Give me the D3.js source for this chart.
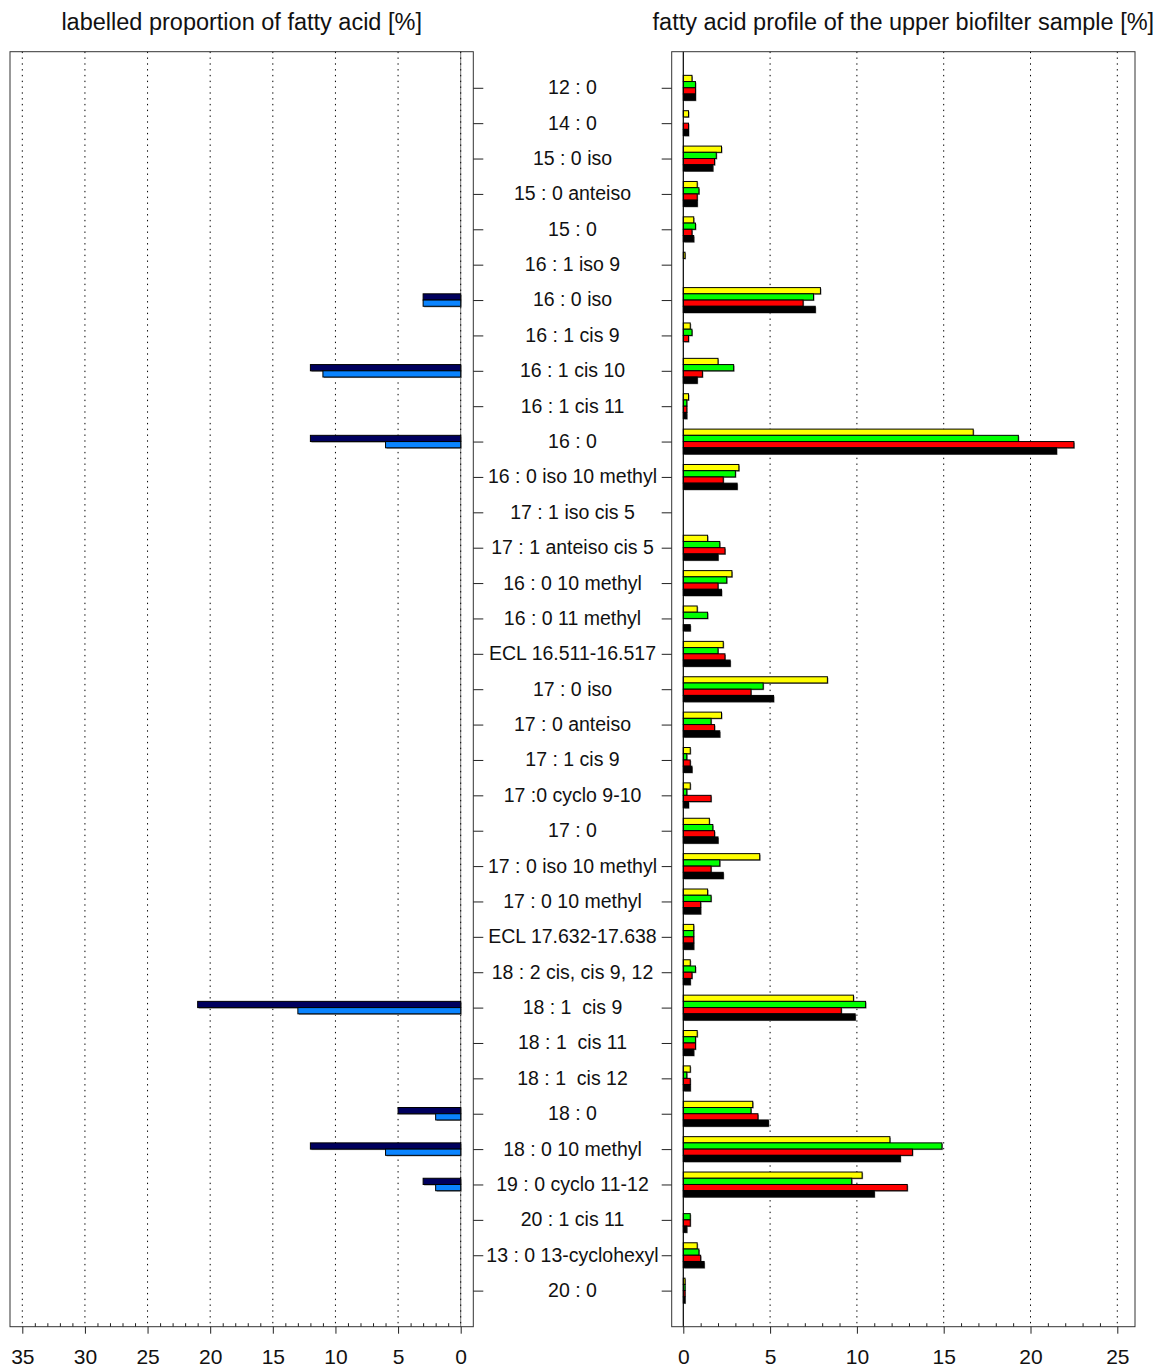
<!DOCTYPE html>
<html>
<head>
<meta charset="utf-8">
<script src="https://cdn.jsdelivr.net/npm/d3@7"></script>
<style>
  html, body { margin: 0; padding: 0; background: #fff; }
  svg { display: block; font-family: "Liberation Sans", Arial, Helvetica, sans-serif; }
  text { white-space: pre; }
</style>
</head>
<body>
<svg id="chart" width="1169" height="1371"></svg>
<script>
// Fatty acids, top to bottom
const categories = [
  "12 : 0", "14 : 0", "15 : 0 iso", "15 : 0 anteiso", "15 : 0", "16 : 1 iso 9",
  "16 : 0 iso", "16 : 1 cis 9", "16 : 1 cis 10", "16 : 1 cis 11", "16 : 0",
  "16 : 0 iso 10 methyl", "17 : 1 iso cis 5", "17 : 1 anteiso cis 5",
  "16 : 0 10 methyl", "16 : 0 11 methyl", "ECL 16.511-16.517", "17 : 0 iso",
  "17 : 0 anteiso", "17 : 1 cis 9", "17 :0 cyclo 9-10", "17 : 0",
  "17 : 0 iso 10 methyl", "17 : 0 10 methyl", "ECL 17.632-17.638",
  "18 : 2 cis, cis 9, 12", "18 : 1  cis 9", "18 : 1  cis 11", "18 : 1  cis 12",
  "18 : 0", "18 : 0 10 methyl", "19 : 0 cyclo 11-12", "20 : 1 cis 11",
  "13 : 0 13-cyclohexyl", "20 : 0"
];

// Labelled proportion [%] (left panel), two series
const labelledDark = [0,0,0,0,0,0,3,0,12,0,12,0,0,0,0,0,0,0,0,0,0,0,0,0,0,0,21,0,0,5,12,3,0,0,0];
const labelledLight = [0,0,0,0,0,0,3,0,11,0,6,0,0,0,0,0,0,0,0,0,0,0,0,0,0,0,13,0,0,2,6,2,0,0,0];

// Fatty acid profile of the upper biofilter sample [%] (right panel), four series
const profileYellow = [0.5,0.3,2.2,0.8,0.6,0.1,7.9,0.4,2.0,0.3,16.7,3.2,0,1.4,2.8,0.8,2.3,8.3,2.2,0.4,0.4,1.5,4.4,1.4,0.6,0.4,9.8,0.8,0.4,4.0,11.9,10.3,0,0.8,0.1];
const profileGreen  = [0.7,0,1.9,0.9,0.7,0,7.5,0.5,2.9,0.2,19.3,3.0,0,2.1,2.5,1.4,2.0,4.6,1.6,0.2,0.2,1.7,2.1,1.6,0.6,0.7,10.5,0.7,0.2,3.9,14.9,9.7,0.4,0.9,0.1];
const profileRed    = [0.7,0.3,1.8,0.8,0.5,0,6.9,0.3,1.1,0.2,22.5,2.3,0,2.4,2.0,0,2.4,3.9,1.8,0.4,1.6,1.8,1.6,1.0,0.6,0.5,9.1,0.7,0.4,4.3,13.2,12.9,0.4,1.0,0.1];
const profileBlack  = [0.7,0.3,1.7,0.8,0.6,0,7.6,0,0.8,0.2,21.5,3.1,0,2.0,2.2,0.4,2.7,5.2,2.1,0.5,0.3,2.0,2.3,1.0,0.6,0.4,9.9,0.6,0.4,4.9,12.5,11.0,0.2,1.2,0.1];

const leftTicks = [0, 5, 10, 15, 20, 25, 30, 35];
const rightTicks = [0, 5, 10, 15, 20, 25];

const svg = d3.select("#chart");

// Panel frames
const plotTop = 51.7, plotBottom = 1326.7;
const L = { x0: 10, x1: 473.3 };
const R = { x0: 671.7, x1: 1135 };

const y = d3.scalePoint().domain(categories).range([plotTop, plotBottom]).padding(1.02);
const barH = y.step() * 0.176;

// Left panel: values grow to the left
const xL = d3.scaleLinear().domain([0, 35]).range([460.7, 22.3]);
// Right panel
const xR = d3.scaleLinear().domain([0, 25]).range([683.3, 1117.3]);

const gridDash = "1.4 4.4";

function drawGrid(x, ticks, skipZero) {
  svg.append("g").selectAll("line")
    .data(ticks.filter(t => !(skipZero && t === 0)))
    .join("line")
    .attr("x1", d => x(d)).attr("x2", d => x(d))
    .attr("y1", plotTop).attr("y2", plotBottom)
    .attr("stroke", "#000").attr("stroke-width", 1)
    .attr("stroke-dasharray", gridDash);
}

function drawBars(x, seriesList, colors) {
  const n = seriesList.length;
  const g = svg.append("g");
  seriesList.forEach((vals, si) => {
    const rows = categories.map((c, i) => ({ c, v: vals[i] })).filter(d => d.v > 0);
    const yOff = (si - n / 2) * barH;
    const x0 = x(0);
    // drop shadow
    g.append("g").selectAll("rect").data(rows).join("rect")
      .attr("x", d => Math.min(x0, x(d.v)) + 1)
      .attr("y", d => y(d.c) + yOff + 1)
      .attr("width", d => Math.abs(x(d.v) - x0))
      .attr("height", barH)
      .attr("fill", "#8a8a8a");
    g.append("g").selectAll("rect").data(rows).join("rect")
      .attr("x", d => Math.min(x0, x(d.v)))
      .attr("y", d => y(d.c) + yOff)
      .attr("width", d => Math.abs(x(d.v) - x0))
      .attr("height", barH)
      .attr("fill", colors[si])
      .attr("stroke", "#000").attr("stroke-width", 1);
  });
}

// Grids
drawGrid(xL, leftTicks, true);
drawGrid(xR, rightTicks, true);

// Zero reference lines
svg.append("line")
  .attr("x1", xL(0)).attr("x2", xL(0)).attr("y1", plotTop).attr("y2", plotBottom)
  .attr("stroke", "#777").attr("stroke-width", 1);
svg.append("line")
  .attr("x1", xL(0)).attr("x2", xL(0)).attr("y1", plotTop).attr("y2", plotBottom)
  .attr("stroke", "#000").attr("stroke-width", 1).attr("stroke-dasharray", gridDash);

// Bars
drawBars(xL, [labelledDark, labelledLight], ["#00005e", "#0a84ff"]);
drawBars(xR, [profileYellow, profileGreen, profileRed, profileBlack], ["#ffff00", "#00ff00", "#ff0000", "#000000"]);

svg.append("line")
  .attr("x1", xR(0)).attr("x2", xR(0)).attr("y1", plotTop).attr("y2", plotBottom)
  .attr("stroke", "#000").attr("stroke-width", 1.2);

// Frames
[L, R].forEach(p => {
  svg.append("rect")
    .attr("x", p.x0).attr("y", plotTop)
    .attr("width", p.x1 - p.x0).attr("height", plotBottom - plotTop)
    .attr("fill", "none").attr("stroke", "#333").attr("stroke-width", 1);
});

// Bottom axes: major ticks outside with labels, minor ticks inside
function drawAxis(x, majors, maxV) {
  const ax = svg.append("g").attr("transform", `translate(0,${plotBottom})`)
    .call(d3.axisBottom(x).tickValues(majors).tickSize(7).tickPadding(15.5).tickFormat(d3.format("d")));
  ax.select(".domain").remove();
  ax.selectAll(".tick line").attr("stroke", "#222");
  ax.selectAll(".tick text").attr("font-size", 21).attr("fill", "#111")
    .attr("font-family", "'Liberation Sans', Arial, sans-serif");
  const minors = d3.range(0, maxV + 1).filter(v => v % 5 !== 0);
  const mx = svg.append("g").attr("transform", `translate(0,${plotBottom})`)
    .call(d3.axisBottom(x).tickValues(minors).tickSize(-3.5).tickFormat(""));
  mx.select(".domain").remove();
  mx.selectAll(".tick line").attr("stroke", "#222");
}
drawAxis(xL, leftTicks, 35);
drawAxis(xR, rightTicks, 25);

// Category ticks on the inner sides of both panels
const catL = svg.append("g").attr("transform", `translate(${L.x1},0)`)
  .call(d3.axisRight(y).tickSize(10).tickFormat(""));
catL.select(".domain").remove();
catL.selectAll(".tick line").attr("stroke", "#222");
const catR = svg.append("g").attr("transform", `translate(${R.x0},0)`)
  .call(d3.axisLeft(y).tickSize(10).tickFormat(""));
catR.select(".domain").remove();
catR.selectAll(".tick line").attr("stroke", "#222");

// Category labels between the panels
svg.append("g").selectAll("text").data(categories).join("text")
  .attr("x", (L.x1 + R.x0) / 2)
  .attr("y", d => y(d))
  .attr("dy", "0.33em")
  .attr("text-anchor", "middle")
  .attr("font-size", 19.5)
  .attr("fill", "#111")
  .text(d => d);

// Panel titles
svg.append("text")
  .attr("x", (L.x0 + L.x1) / 2).attr("y", 30)
  .attr("text-anchor", "middle").attr("font-size", 23.5)
  .attr("fill", "#111")
  .text("labelled proportion of fatty acid [%]");
svg.append("text")
  .attr("x", (R.x0 + R.x1) / 2).attr("y", 30)
  .attr("text-anchor", "middle").attr("font-size", 23.5)
  .attr("fill", "#111")
  .text("fatty acid profile of the upper biofilter sample [%]");
</script>
</body>
</html>
